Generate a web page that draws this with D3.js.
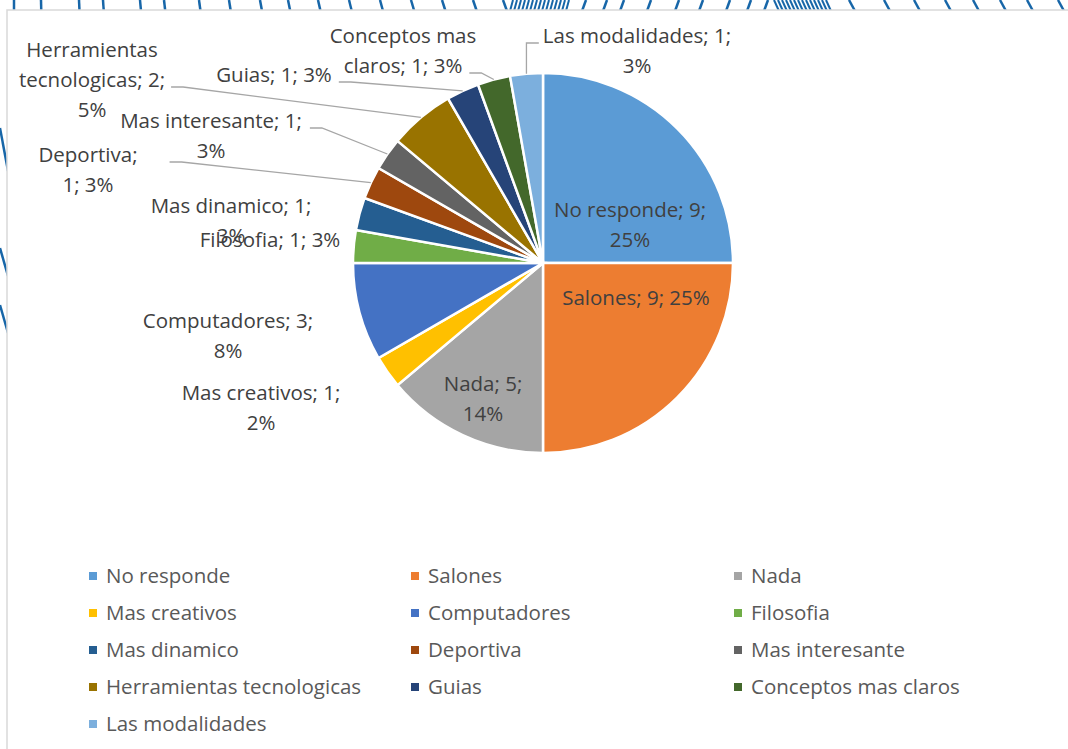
<!DOCTYPE html>
<html>
<head>
<meta charset="utf-8">
<script src="https://cdn.jsdelivr.net/npm/d3@7/dist/d3.min.js"></script>
<style>
  body { margin: 0; background: #fff; }
  svg { display: block; }
  text { font-family: "Open Sans", sans-serif; }
</style>
</head>
<body>
<svg id="chart" width="1068" height="749"></svg>
<script>
// data
const categories = ["No responde", "Salones", "Nada", "Mas creativos", "Computadores", "Filosofia",
  "Mas dinamico", "Deportiva", "Mas interesante", "Herramientas tecnologicas", "Guias",
  "Conceptos mas claros", "Las modalidades"];
const values = [9, 9, 5, 1, 3, 1, 1, 1, 1, 2, 1, 1, 1];
const percentLabels = ["25%", "25%", "14%", "2%", "8%", "3%", "3%", "3%", "3%", "5%", "3%", "3%", "3%"];
const colors = ["#5B9BD5", "#ED7D31", "#A5A5A5", "#FFC000", "#4472C4", "#70AD47",
  "#255E91", "#9E480E", "#636363", "#997300", "#264478", "#43682B", "#7CAFDD"];

// where Excel put each data label: text centre x, first baseline, words per line, leader
const labelLayout = [
  { x: 630, y: 217, wrap: [3, 1] },
  { x: 636, y: 305, wrap: [3] },
  { x: 483, y: 391, wrap: [2, 1] },
  { x: 261, y: 400, wrap: [3, 1] },
  { x: 228, y: 328, wrap: [2, 1] },
  { x: 270, y: 247, wrap: [3] },
  { x: 231, y: 213, wrap: [3, 1] },
  { x: 88, y: 162, wrap: [1, 2], leader: { line: 0, side: "right", gap: 32 } },
  { x: 211, y: 128, wrap: [3, 1], leader: { line: 0, side: "right", gap: 8 } },
  { x: 92, y: 57, wrap: [1, 2, 1], leader: { line: 1, side: "right", gap: 6 } },
  { x: 274, y: 82, wrap: [3], leader: { line: 0, side: "right", gap: 7 } },
  { x: 403, y: 43, wrap: [2, 3], leader: { line: 1, side: "right", gap: 7 } },
  { x: 637, y: 43, wrap: [3, 1], leader: { line: 0, side: "left", gap: 4 } }
];

const svg = d3.select("#chart");
const W = 1068, H = 749;
const cx = 543, cy = 263, R = 190;
const lineH = 30;
const fontSize = "20.5px";

// blue stripes of the slide behind the chart
const topStripes = [14, 41, 79, 103, 140, 164, 199, 229, 260, 288, 318, 349, 380, 411, 442, 473, 503];
const topSlash = [582, 603, 620, 647, 675, 699, 726, 747, 764];
const topBack = [849, 884, 914, 945, 973, 1000, 1027, 1058];
const deco = svg.append("g").attr("stroke", "#1766a8").attr("stroke-width", 2.5).attr("fill", "none");
topStripes.forEach((x, i) => {
  deco.append("line").attr("x1", x).attr("y1", 0).attr("x2", x + i * 0.25).attr("y2", 11);
});
d3.range(510, 570, 4).forEach(x => {
  deco.append("line").attr("x1", x + 3).attr("y1", 0).attr("x2", x).attr("y2", 11).attr("stroke-width", 2);
});
topSlash.forEach(x => {
  deco.append("line").attr("x1", x + 4).attr("y1", 0).attr("x2", x).attr("y2", 11);
});
d3.range(774, 830, 4).forEach(x => {
  deco.append("line").attr("x1", x).attr("y1", 0).attr("x2", x + 5).attr("y2", 11).attr("stroke-width", 2);
});
topBack.forEach(x => {
  deco.append("line").attr("x1", x).attr("y1", 0).attr("x2", x + 6).attr("y2", 11);
});
[[128, 171], [248, 276], [305, 333]].forEach(([a, b]) => {
  deco.append("line").attr("x1", 0).attr("y1", a).attr("x2", 8).attr("y2", b);
});

// chart area
svg.append("rect")
  .attr("x", 7).attr("y", 10)
  .attr("width", W).attr("height", H)
  .attr("fill", "#fff")
  .attr("stroke", "#d9d9d9")
  .attr("stroke-width", 1.5);

const color = d3.scaleOrdinal().domain(categories).range(colors);

const pie = d3.pie().sort(null).value(d => d.value);
const arcs = pie(categories.map((c, i) => ({ name: c, value: values[i], pct: percentLabels[i] })));
const arc = d3.arc().innerRadius(0).outerRadius(R);

const g = svg.append("g").attr("transform", `translate(${cx},${cy})`);
g.selectAll("path.slice")
  .data(arcs)
  .enter()
  .append("path")
  .attr("class", "slice")
  .attr("d", arc)
  .attr("fill", d => color(d.data.name))
  .attr("stroke", "#fff")
  .attr("stroke-width", 2.5);

// data labels
const labels = svg.append("g");
arcs.forEach((d, i) => {
  const lay = labelLayout[i];
  const words = `${d.data.name}; ${d.data.value}; ${d.data.pct}`.split(" ");
  let k = 0;
  const lines = lay.wrap.map(n => { const s = words.slice(k, k + n).join(" "); k += n; return s; });
  const t = labels.append("text")
    .attr("text-anchor", "middle")
    .attr("font-size", fontSize)
    .attr("fill", "#404040");
  const spans = lines.map((s, j) => t.append("tspan")
    .attr("x", lay.x)
    .attr("y", lay.y + j * lineH)
    .text(s));

  if (lay.leader) {
    const ld = lay.leader;
    const box = spans[ld.line].node().getBBox();
    const yb = lay.y + ld.line * lineH;
    const a = (d.startAngle + d.endAngle) / 2;
    const ex = cx + R * Math.sin(a), ey = cy - R * Math.cos(a);
    let pts;
    if (ld.side === "right") {
      const sx = box.x + box.width + ld.gap;
      pts = [[sx, yb], [sx + 12, yb], [ex, ey]];
    } else {
      const sx = box.x - ld.gap;
      pts = [[sx, yb], [ex, yb], [ex, ey]];
    }
    labels.append("path")
      .attr("d", d3.line()(pts))
      .attr("fill", "none")
      .attr("stroke", "#a6a6a6")
      .attr("stroke-width", 1.3);
  }
});

// legend, three columns
const legendCol = d3.scaleOrdinal().domain([0, 1, 2]).range([89, 411, 734]);
const legendRow = d3.scaleLinear().domain([0, 1]).range([576, 613]);
const legend = svg.append("g");
categories.forEach((c, i) => {
  const x = legendCol(i % 3), y = legendRow(Math.floor(i / 3));
  legend.append("rect")
    .attr("x", x).attr("y", y - 4)
    .attr("width", 8).attr("height", 8)
    .attr("fill", color(c));
  legend.append("text")
    .attr("x", x + 17).attr("y", y + 7)
    .attr("font-size", fontSize)
    .attr("fill", "#595959")
    .text(c);
});
</script>
</body>
</html>
